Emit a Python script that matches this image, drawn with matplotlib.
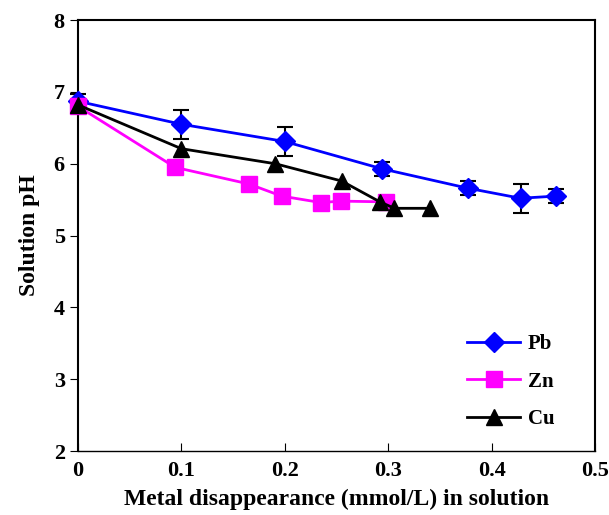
import numpy as np
import matplotlib.pyplot as plt

plt.rcParams['font.family'] = ['Liberation Serif', 'DejaVu Serif']
plt.rcParams['font.weight'] = 'bold'

# Pb
pb_x = [0.0, 0.100, 0.200, 0.294, 0.377, 0.428, 0.462]
pb_y = [6.87, 6.55, 6.31, 5.93, 5.66, 5.52, 5.55]
pb_err = [0.10, 0.20, 0.20, 0.10, 0.10, 0.20, 0.10]
# Zn
zn_x = [0.0, 0.094, 0.165, 0.197, 0.235, 0.254, 0.298]
zn_y = [6.80, 5.95, 5.72, 5.55, 5.46, 5.48, 5.47]
# Cu
cu_x = [0.0, 0.100, 0.191, 0.255, 0.292, 0.306, 0.340]
cu_y = [6.82, 6.21, 6.00, 5.76, 5.47, 5.38, 5.38]

fig = plt.figure(figsize=(6.09, 5.15), dpi=100)
ax = fig.add_axes([0.128, 0.124, 0.849, 0.837])

ax.errorbar(pb_x, pb_y, yerr=pb_err, fmt='none', ecolor='black',
            elinewidth=1.5, capsize=6, capthick=1.5, zorder=2, clip_on=False)
ax.plot(pb_x, pb_y, color='blue', lw=2, marker='D', ms=10, label='Pb', zorder=3, clip_on=False)
ax.plot(zn_x, zn_y, color='magenta', lw=2, marker='s', ms=12, label='Zn', zorder=3, clip_on=False)
ax.plot(cu_x, cu_y, color='black', lw=2, marker='^', ms=12, label='Cu', zorder=4, clip_on=False)

ax.set_xlim(0, 0.5)
ax.set_ylim(2, 8)
ax.set_xticks([0, 0.1, 0.2, 0.3, 0.4, 0.5])
ax.set_xticklabels(['0', '0.1', '0.2', '0.3', '0.4', '0.5'])
ax.set_yticks([2, 3, 4, 5, 6, 7, 8])
ax.tick_params(axis='x', direction='in', length=6, labelsize=16, pad=7)
ax.tick_params(axis='y', direction='out', length=6, labelsize=16)
for s in ax.spines.values():
    s.set_linewidth(1.5)
ax.spines['bottom'].set_linewidth(1.0)

ax.set_xlabel('Metal disappearance (mmol/L) in solution', fontsize=17, fontweight='bold', labelpad=6)
ax.set_ylabel('Solution pH', fontsize=17, fontweight='bold', labelpad=10)

ax.legend(loc='lower right', bbox_to_anchor=(0.958, 0.007), frameon=False,
          fontsize=15, handlelength=2.5, labelspacing=0.85, handletextpad=0.4)

fig.savefig('out.png', dpi=100)
